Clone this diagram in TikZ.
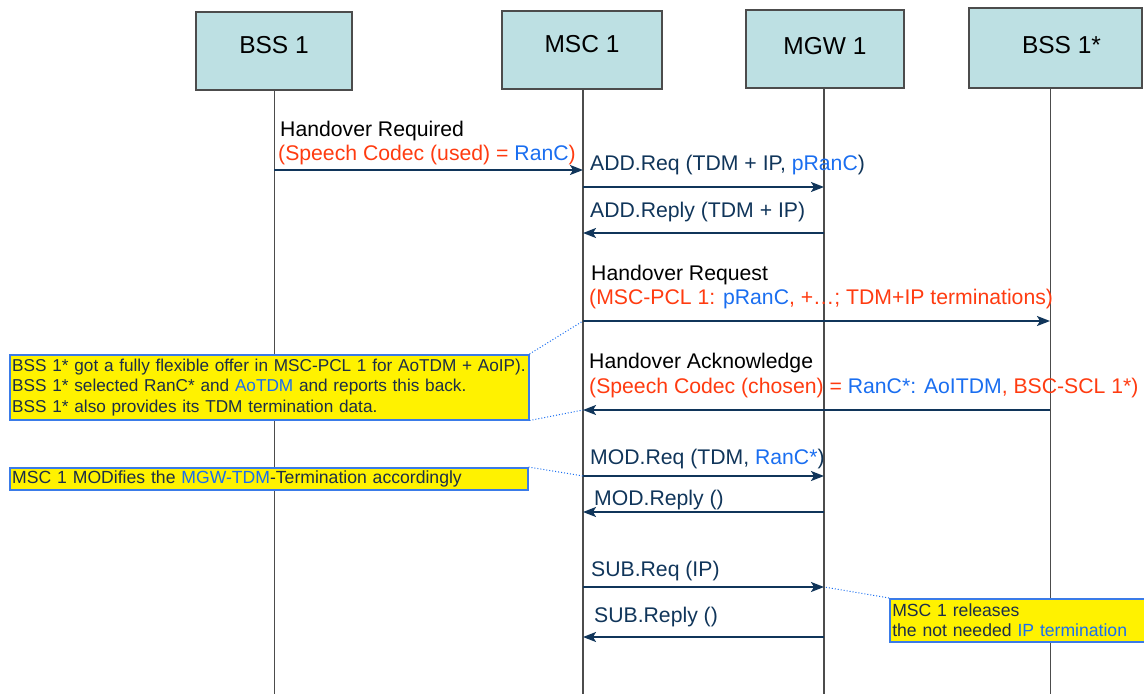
\documentclass[tikz,border=0pt]{standalone}
\usepackage{fontspec}
\setmainfont{Liberation Sans}
\usetikzlibrary{arrows.meta}
\definecolor{navy}{HTML}{10355A}
\definecolor{hred}{HTML}{FF3B10}
\definecolor{hblue}{HTML}{1A6EF0}
\definecolor{boxfill}{HTML}{BDE0E3}
\definecolor{noteborder}{HTML}{3A7BE8}
\definecolor{notetext}{HTML}{1C2E48}
\tikzset{
  head/.style={draw=black!70, line width=1.2pt, fill=boxfill, minimum height=78pt,
    inner sep=0pt, text height=17pt, text depth=12pt, font=\fontsize{24.5}{28}\selectfont},
  life/.style={draw=black!70, line width=1.4pt},
  msg/.style={-{Stealth[length=13pt,width=10pt,inset=3pt]}, draw=navy, line width=1.8pt},
  lbl/.style={anchor=base west, inner sep=0pt, font=\fontsize{21.2}{25}\selectfont},
  note/.style={draw=noteborder, fill=yellow, line width=1.5pt, anchor=north west,
    align=left, inner xsep=2.5pt, inner ysep=0pt, text=notetext,
    font=\fontsize{17.6}{20}\selectfont},
  link/.style={draw=hblue, dotted, line width=1pt}
}
\begin{document}
\begin{tikzpicture}[x=1pt, y=-1pt]
\useasboundingbox (0,0) rectangle (1144,694);

% heads
\node[head, minimum width=156pt] (bss) at (274,51) {BSS 1};
\node[head, minimum width=160pt] (msc) at (582,50) {MSC 1};
\node[head, minimum width=158pt, text depth=6pt] (mgw) at (825,49) {MGW 1};
\node[head, minimum width=173pt, minimum height=80pt, text depth=6pt] (bsss) at (1055.5,48) {\hspace*{12pt}BSS 1*};

% lifelines
\coordinate (bssE) at (274,694);
\coordinate (mscE) at (583,694);
\coordinate (mgwE) at (824,694);
\coordinate (bsssE) at (1050,694);
\draw[life, line width=1pt] (bss.south -| bssE) -- (bssE);
\draw[life] (msc.south -| mscE) -- (mscE);
\draw[life] (mgw.south -| mgwE) -- (mgwE);
\draw[life, line width=1pt] (bsss.south -| bsssE) -- (bsssE);

% message end points
\coordinate (m1a) at (274,170);  \coordinate (m1b) at (583,170);
\coordinate (m2a) at (583,187);  \coordinate (m2b) at (824,187);
\coordinate (m3a) at (824,233);  \coordinate (m3b) at (583,233);
\coordinate (m4a) at (583,321);  \coordinate (m4b) at (1050,321);
\coordinate (m5a) at (1050,410); \coordinate (m5b) at (583,410);
\coordinate (m6a) at (583,476);  \coordinate (m6b) at (824,476);
\coordinate (m7a) at (824,512);  \coordinate (m7b) at (583,512);
\coordinate (m8a) at (583,587);  \coordinate (m8b) at (824,587);
\coordinate (m9a) at (824,637);  \coordinate (m9b) at (583,637);

\draw[msg] (m1a) -- (m1b);
\draw[msg] (m2a) -- (m2b);
\draw[msg] (m3a) -- (m3b);
\draw[msg] (m4a) -- (m4b);
\draw[msg] (m5a) -- (m5b);
\draw[msg] (m6a) -- (m6b);
\draw[msg] (m7a) -- (m7b);
\draw[msg] (m8a) -- (m8b);
\draw[msg] (m9a) -- (m9b);

% labels
\node[lbl] (t1a) at (280,136) {Handover Required};
\node[lbl, text=hred] (t1b) at (278,160) {(Speech Codec (used) = \textcolor{hblue}{RanC})};
\node[lbl, text=navy] (t2) at (590,170) {ADD.Req (TDM + IP, \textcolor{hblue}{pRanC})};
\node[lbl, text=navy] (t3) at (590,217) {ADD.Reply (TDM + IP)};
\node[lbl] (t4a) at (591,280) {Handover Request};
\node[lbl, text=hred] (t4b) at (589,304) {(MSC-PCL 1: \textcolor{hblue}{pRanC}, +\ldots; TDM+IP terminations)};
\node[lbl] (t5a) at (589,368) {Handover Acknowledge};
\node[lbl, text=hred] (t5b) at (589,393) {(Speech Codec (chosen) = \textcolor{hblue}{RanC*: AoITDM}, BSC-SCL 1*)};
\node[lbl, text=navy] (t6) at (590,464) {MOD.Req (TDM, \textcolor{hblue}{RanC*})};
\node[lbl, text=navy] (t7) at (594,505) {MOD.Reply ()};
\node[lbl, text=navy] (t8) at (591,576) {SUB.Req (IP)};
\node[lbl, text=navy] (t9) at (594,622) {SUB.Reply ()};

% notes
\node[note, minimum width=519pt, text width=514pt, minimum height=65pt,
      font=\fontsize{17.2}{20.5}\selectfont] (n1) at (9,354)
  {\mbox{BSS 1* got a fully flexible offer in MSC-PCL 1 for AoTDM + AoIP).}\\
   BSS 1* selected RanC* and \textcolor{hblue}{AoTDM} and reports this back.\\
   BSS 1* also provides its TDM termination data.};
\node[note, minimum width=518pt, text width=513pt, minimum height=22pt] (n2) at (9,467)
  {MSC 1 MODifies the \textcolor{hblue}{MGW-TDM}-Termination accordingly};
\node[note, minimum width=262pt, text width=257pt, minimum height=43pt] (n3) at (889,598)
  {MSC 1 releases\\the not needed \textcolor{hblue}{IP termination}};

\draw[link] (n1.north east) -- (m4a);
\draw[link] (n1.south east) -- (m5b);
\draw[link] (n2.north east) -- (m6a);
\draw[link] (n3.north west) -- (m8b);
\end{tikzpicture}
\end{document}
